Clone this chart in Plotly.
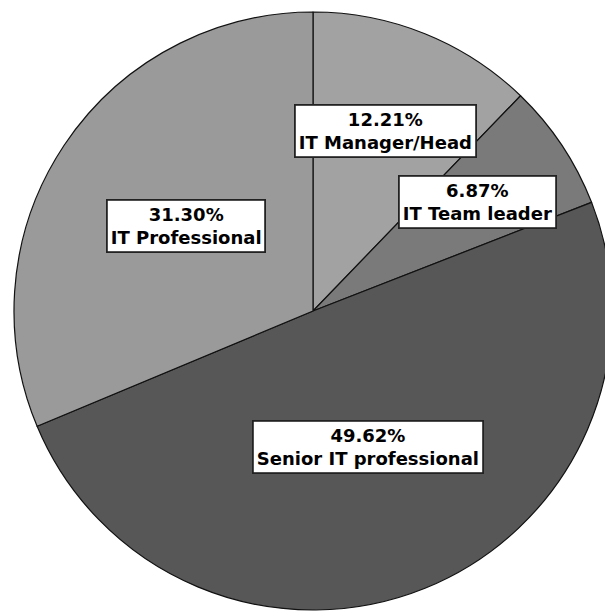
import math
import plotly.graph_objects as go

# ---- data ----
categories = ["IT Manager/Head", "IT Team leader", "Senior IT professional", "IT Professional"]
percent_values = [12.21, 6.87, 49.62, 31.30]
percent_labels = ["12.21%", "6.87%", "49.62%", "31.30%"]

# ---- styles ----
slice_colors = ["#a2a2a2", "#7a7a7a", "#575757", "#9a9a9a"]
label_radius_frac = [0.65, 0.66, 0.49, 0.51]

W, H = 620, 612
cx, cy, r = 313, 311, 299  # pie placement in pixels (layout)

fig = go.Figure()
fig.add_trace(go.Pie(
    labels=categories,
    values=percent_values,
    sort=False,
    direction="clockwise",
    rotation=0,
    textinfo="none",
    hoverinfo="label+percent",
    marker=dict(colors=slice_colors, line=dict(color="#111111", width=1.2)),
    domain=dict(x=[(cx - r) / W, (cx + r) / W], y=[(H - (cy + r)) / H, (H - (cy - r)) / H]),
    showlegend=False,
))

# label positions derived from slice mid-angles
total = sum(percent_values)
cum = 0.0
annotations = []
for cat, val, pl, frac in zip(categories, percent_values, percent_labels, label_radius_frac):
    mid = (cum + val / 2) / total * 2 * math.pi
    cum += val
    px = cx + frac * r * math.sin(mid)
    py = cy - frac * r * math.cos(mid)
    annotations.append(dict(
        x=px / W, y=1 - py / H, xref="paper", yref="paper",
        xanchor="center", yanchor="middle",
        text=f"<b>{pl}</b><br><b>{cat}</b>",
        showarrow=False,
        font=dict(family="DejaVu Sans", size=18, color="black"),
        bgcolor="white", bordercolor="#222222", borderwidth=1.8, borderpad=3,
        align="center",
    ))

fig.update_layout(
    width=W, height=H,
    margin=dict(l=0, r=0, t=0, b=0),
    paper_bgcolor="white", plot_bgcolor="white",
    annotations=annotations,
)

fig.write_html("out.html")
